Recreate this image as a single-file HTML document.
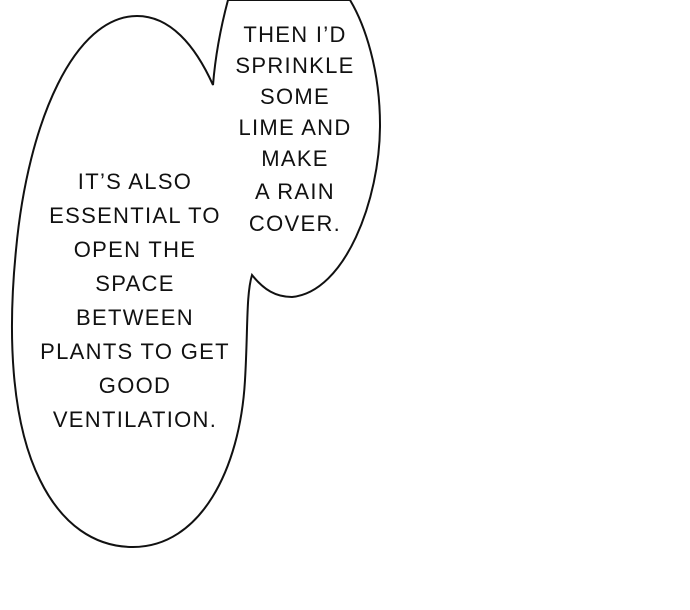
<!DOCTYPE html>
<html><head><style>
html,body{margin:0;padding:0;background:#fff;}
body{width:690px;height:610px;position:relative;overflow:hidden;}
svg{position:absolute;left:0;top:0;}
.t{position:absolute;font-family:"Liberation Sans",sans-serif;font-size:22px;letter-spacing:1.3px;color:#111;text-align:center;white-space:nowrap;}
.t div{height:0;position:relative;}
.t span{position:absolute;transform:translate(-50%,-50%);left:0;}
</style></head><body>
<svg width="690" height="610" viewBox="0 0 690 610">
<path d="M213,85 C195,45 170,16 137,16 C75,16 28,120 16,250 C8,330 10,420 40,480 C62,525 95,547 133,547 C200,547 240,470 245,380 C248,330 246,295 252,275 C264,290 276,297 292,297 C345,292 380,200 380,125 C380,70 365,25 350,0 L228,0 C220,30 215,60 213,85 Z" fill="#fff" stroke="#111" stroke-width="2"/>
</svg>
<div class="t" style="left:135px;top:0">
<div style="top:182px"><span>IT’S ALSO</span></div>
<div style="top:216px"><span>ESSENTIAL TO</span></div>
<div style="top:250px"><span>OPEN THE</span></div>
<div style="top:284px"><span>SPACE</span></div>
<div style="top:318px"><span>BETWEEN</span></div>
<div style="top:352px"><span>PLANTS TO GET</span></div>
<div style="top:386px"><span>GOOD</span></div>
<div style="top:420px"><span>VENTILATION.</span></div>
</div>
<div class="t" style="left:295px;top:0">
<div style="top:35px"><span>THEN I’D</span></div>
<div style="top:66px"><span>SPRINKLE</span></div>
<div style="top:97px"><span>SOME</span></div>
<div style="top:128px"><span>LIME AND</span></div>
<div style="top:159px"><span>MAKE</span></div>
<div style="top:192px"><span>A RAIN</span></div>
<div style="top:224px"><span>COVER.</span></div>
</div>
</body></html>
